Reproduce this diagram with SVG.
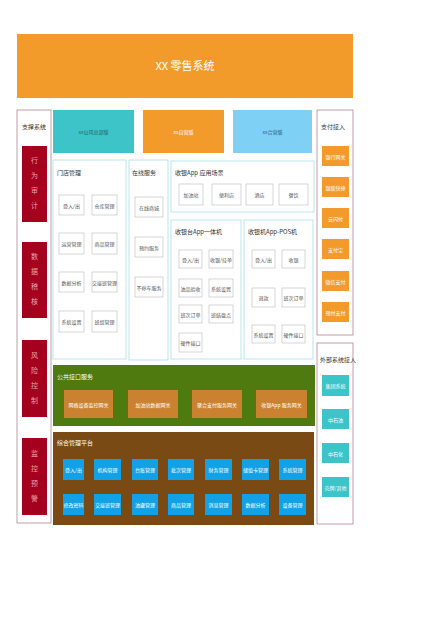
<svg xmlns="http://www.w3.org/2000/svg" width="440" height="620" viewBox="0 0 440 620">
<style>
text{font-family:"Noto Sans CJK SC","Liberation Sans",sans-serif;}
.lbl{font-size:6px;fill:#333;}
.bt{font-size:5px;fill:#555;text-anchor:middle;dominant-baseline:central;}
.wt{font-size:5px;fill:#fff;text-anchor:middle;dominant-baseline:central;}
.wbox{fill:#fff;stroke:#bbb;stroke-width:0.6;}
.panel{fill:#fff;stroke:#a8dfe6;stroke-width:0.8;}
.side{fill:#fff;stroke:#b5838f;stroke-width:0.8;}
.red{fill:#a5001e;}
.org{fill:#f39b2a;}
.cyan{fill:#3cc4c9;}
.blu{fill:#12a1e6;}
.ogw{fill:#cb8230;}
.vt{font-size:7px;fill:#e9a0a8;text-anchor:middle;}
</style>
<rect width="440" height="620" fill="#fff"/>
<g id="title"><rect x="17" y="34" width="336" height="64" class="org"/><text x="185" y="70" font-size="11" fill="#fff" text-anchor="middle">XX 零售系统</text></g>

<g id="support"><rect x="17" y="110" width="34" height="413" class="side"/><text x="22" y="129" class="lbl" font-size="5.5">支撑系统</text>
<rect x="22" y="146" width="25" height="76" class="red"/><text class="vt"><tspan x="34.5" y="163">行</tspan><tspan x="34.5" y="178">为</tspan><tspan x="34.5" y="193">审</tspan><tspan x="34.5" y="208">计</tspan></text>
<rect x="22" y="242" width="25" height="76" class="red"/><text class="vt"><tspan x="34.5" y="259">数</tspan><tspan x="34.5" y="274">据</tspan><tspan x="34.5" y="289">稽</tspan><tspan x="34.5" y="304">核</tspan></text>
<rect x="22" y="340" width="25" height="77" class="red"/><text class="vt"><tspan x="34.5" y="358">风</tspan><tspan x="34.5" y="373">险</tspan><tspan x="34.5" y="388">控</tspan><tspan x="34.5" y="403">制</tspan></text>
<rect x="22" y="438" width="25" height="77" class="red"/><text class="vt"><tspan x="34.5" y="456">监</tspan><tspan x="34.5" y="471">控</tspan><tspan x="34.5" y="486">预</tspan><tspan x="34.5" y="501">警</tspan></text>
</g>

<g id="editions">
<rect x="53" y="110" width="81" height="43" class="cyan"/><text x="93.5" y="131.5" class="wt" fill="#333" style="fill:#2b5f60">xx公司总部版</text>
<rect x="143" y="110" width="81" height="43" class="org"/><text x="183.5" y="131.5" class="wt">xx自营版</text>
<rect x="233" y="110" width="79" height="43" fill="#7fd0f5"/><text x="272.5" y="131.5" class="wt" style="fill:#2a5a70">xx合营版</text>
</g>

<g id="pay"><rect x="317" y="110" width="36" height="225" class="side"/><text x="321" y="129" class="lbl" font-size="5.5">支付接入</text>
<rect x="322" y="146" width="27" height="20" class="org"/><text x="335.5" y="156" class="wt">银行网关</text>
<rect x="322" y="177" width="27" height="20" class="org"/><text x="335.5" y="187" class="wt">银联快捷</text>
<rect x="322" y="208" width="27" height="20" class="org"/><text x="335.5" y="218" class="wt">云闪付</text>
<rect x="322" y="239" width="27" height="20" class="org"/><text x="335.5" y="249" class="wt">支付宝</text>
<rect x="322" y="271" width="27" height="20" class="org"/><text x="335.5" y="281" class="wt">微信支付</text>
<rect x="322" y="302" width="27" height="20" class="org"/><text x="335.5" y="312" class="wt">预付支付</text>
</g>

<g id="external"><rect x="317" y="343" width="36" height="181" class="side"/><text x="320" y="362" class="lbl" font-size="5">外部系统接入</text>
<rect x="322" y="375" width="27" height="21" class="cyan"/><text x="335.5" y="385.5" class="wt">集团系统</text>
<rect x="322" y="409" width="27" height="20" class="cyan"/><text x="335.5" y="419" class="wt">中石油</text>
<rect x="322" y="443" width="27" height="20" class="cyan"/><text x="335.5" y="453" class="wt">中石化</text>
<rect x="322" y="477" width="27" height="20" class="cyan"/><text x="335.5" y="487" class="wt">壳牌/其他</text>
</g>

<g id="store"><rect x="53" y="160" width="73" height="199" class="panel"/><text x="57" y="175" class="lbl">门店管理</text>
<rect x="59" y="195" width="25" height="20" class="wbox"/><text x="71.5" y="205" class="bt">登入/出</text>
<rect x="92" y="195" width="25" height="20" class="wbox"/><text x="104.5" y="205" class="bt">仓库管理</text>
<rect x="59" y="233" width="25" height="21" class="wbox"/><text x="71.5" y="243.5" class="bt">运营管理</text>
<rect x="92" y="233" width="25" height="21" class="wbox"/><text x="104.5" y="243.5" class="bt">商品管理</text>
<rect x="59" y="272" width="25" height="20" class="wbox"/><text x="71.5" y="282" class="bt">数据分析</text>
<rect x="92" y="272" width="25" height="20" class="wbox"/><text x="104.5" y="282" class="bt">交接班管理</text>
<rect x="59" y="311" width="25" height="21" class="wbox"/><text x="71.5" y="321.5" class="bt">系统设置</text>
<rect x="92" y="311" width="25" height="21" class="wbox"/><text x="104.5" y="321.5" class="bt">班组管理</text>
</g>

<g id="online"><rect x="129" y="160" width="39" height="200" class="panel"/><text x="132" y="175" class="lbl">在线服务</text>
<rect x="135" y="197" width="28" height="20" class="wbox"/><text x="149" y="207" class="bt">在线商城</text>
<rect x="135" y="237" width="28" height="20" class="wbox"/><text x="149" y="247" class="bt">预约服务</text>
<rect x="135" y="277" width="28" height="20" class="wbox"/><text x="149" y="287" class="bt">不停车服务</text>
</g>

<g id="scenes"><rect x="171" y="161" width="143" height="51" class="panel"/><text x="175" y="175" class="lbl">收银App 应用场景</text>
<rect x="179" y="184" width="24" height="21" class="wbox"/><text x="191" y="194.5" class="bt">加油站</text>
<rect x="212" y="184" width="29" height="21" class="wbox"/><text x="226.5" y="194.5" class="bt">便利店</text>
<rect x="246" y="184" width="27" height="21" class="wbox"/><text x="259.5" y="194.5" class="bt">酒店</text>
<rect x="279" y="184" width="29" height="21" class="wbox"/><text x="293.5" y="194.5" class="bt">餐饮</text>
</g>

<g id="allinone"><rect x="171" y="220" width="70" height="139" class="panel"/><text x="175" y="234" class="lbl">收银台App一体机</text>
<rect x="179" y="250" width="23" height="18" class="wbox"/><text x="190.5" y="259" class="bt">登入/出</text>
<rect x="209" y="250" width="24" height="18" class="wbox"/><text x="221" y="259" class="bt">收银/挂单</text>
<rect x="179" y="279" width="23" height="18" class="wbox"/><text x="190.5" y="288" class="bt">油品验收</text>
<rect x="209" y="279" width="24" height="18" class="wbox"/><text x="221" y="288" class="bt">系统设置</text>
<rect x="179" y="305" width="23" height="18" class="wbox"/><text x="190.5" y="314" class="bt">班次订单</text>
<rect x="209" y="305" width="24" height="18" class="wbox"/><text x="221" y="314" class="bt">班结盘点</text>
<rect x="179" y="333" width="23" height="19" class="wbox"/><text x="190.5" y="342.5" class="bt">硬件接口</text>
</g>

<g id="pos"><rect x="244" y="220" width="69" height="139" class="panel"/><text x="248" y="234" class="lbl">收银机App-POS机</text>
<rect x="252" y="250" width="23" height="18" class="wbox"/><text x="263.5" y="259" class="bt">登入/出</text>
<rect x="282" y="250" width="23" height="18" class="wbox"/><text x="293.5" y="259" class="bt">收银</text>
<rect x="252" y="288" width="23" height="19" class="wbox"/><text x="263.5" y="297.5" class="bt">退款</text>
<rect x="282" y="288" width="23" height="19" class="wbox"/><text x="293.5" y="297.5" class="bt">班次订单</text>
<rect x="252" y="325" width="23" height="18" class="wbox"/><text x="263.5" y="334" class="bt">系统设置</text>
<rect x="282" y="325" width="23" height="18" class="wbox"/><text x="293.5" y="334" class="bt">硬件接口</text>
</g>

<g id="api"><rect x="53" y="365" width="262" height="61" fill="#4f7a0f"/><text x="57" y="379" class="lbl" style="fill:#fff">公共接口服务</text>
<rect x="64" y="390" width="49" height="28" class="ogw"/><text x="88.5" y="404" class="wt">网络设备监控网关</text>
<rect x="128" y="390" width="50" height="28" class="ogw"/><text x="153" y="404" class="wt">加油站数据网关</text>
<rect x="192" y="390" width="50" height="28" class="ogw"/><text x="217" y="404" class="wt">聚合支付服务网关</text>
<rect x="256" y="390" width="51" height="28" class="ogw"/><text x="281.5" y="404" class="wt">收银App 服务网关</text>
</g>

<g id="mgmt"><rect x="53" y="432" width="261" height="93" fill="#7a4a15"/><text x="57" y="445" class="lbl" style="fill:#fff">综合管理平台</text>
<rect x="63" y="459" width="21" height="21" class="blu"/><text x="73.5" y="469.5" class="wt">登入/出</text>
<rect x="94" y="459" width="27" height="21" class="blu"/><text x="107.5" y="469.5" class="wt">机构管理</text>
<rect x="132" y="459" width="26" height="21" class="blu"/><text x="145" y="469.5" class="wt">台账管理</text>
<rect x="168" y="459" width="26" height="21" class="blu"/><text x="181" y="469.5" class="wt">批次管理</text>
<rect x="205" y="459" width="27" height="21" class="blu"/><text x="218.5" y="469.5" class="wt">财务管理</text>
<rect x="242" y="459" width="27" height="21" class="blu"/><text x="255.5" y="469.5" class="wt">储值卡管理</text>
<rect x="279" y="459" width="27" height="21" class="blu"/><text x="292.5" y="469.5" class="wt">系统管理</text>
<rect x="63" y="494" width="21" height="21" class="blu"/><text x="73.5" y="504.5" class="wt">修改密码</text>
<rect x="94" y="494" width="27" height="21" class="blu"/><text x="107.5" y="504.5" class="wt">交接班管理</text>
<rect x="132" y="494" width="26" height="21" class="blu"/><text x="145" y="504.5" class="wt">油罐管理</text>
<rect x="168" y="494" width="26" height="21" class="blu"/><text x="181" y="504.5" class="wt">商品管理</text>
<rect x="205" y="494" width="27" height="21" class="blu"/><text x="218.5" y="504.5" class="wt">消息管理</text>
<rect x="242" y="494" width="27" height="21" class="blu"/><text x="255.5" y="504.5" class="wt">数据分析</text>
<rect x="279" y="494" width="27" height="21" class="blu"/><text x="292.5" y="504.5" class="wt">设备管理</text>
</g>
<g id="connectors"/>
</svg>
